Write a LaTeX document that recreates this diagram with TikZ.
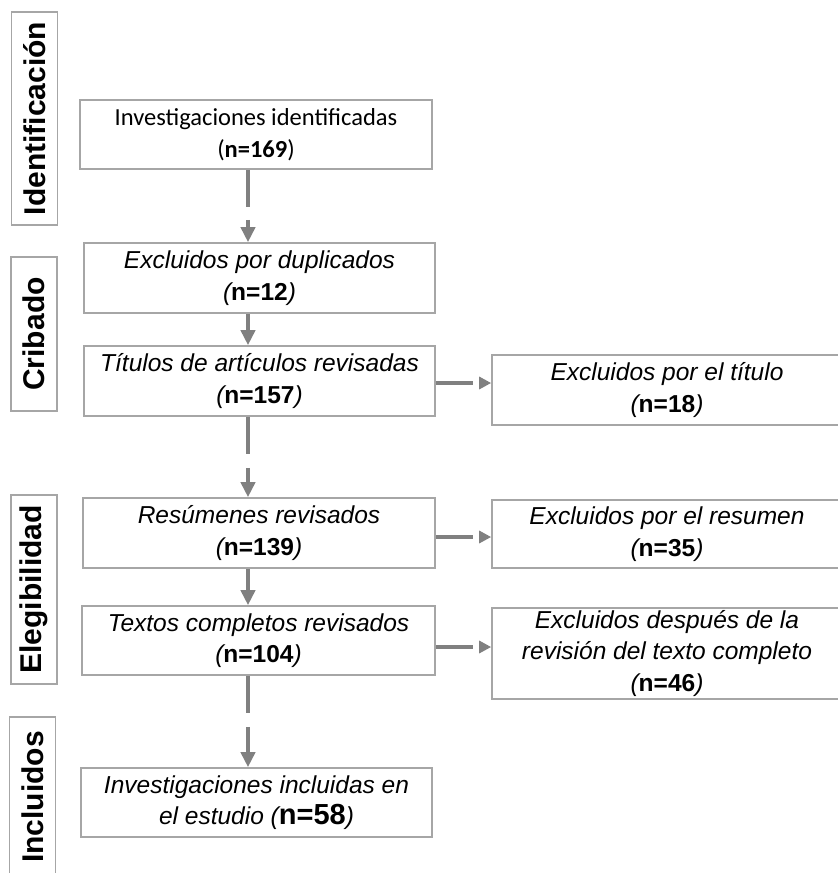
\documentclass[tikz,border=0pt]{standalone}
\usepackage{fontspec}
\setmainfont{Liberation Sans}
\newfontfamily\calibrifont{Carlito}
\usetikzlibrary{arrows.meta,positioning}
\definecolor{boxgray}{HTML}{A6A6A6}
\definecolor{arrowgray}{HTML}{808080}
\newcommand{\boxfont}{\fontsize{24.5}{31.5}\selectfont\itshape}
\newcommand{\phasefont}{\fontsize{30}{34}\selectfont\bfseries}
\newcommand{\nval}[1]{\textbf{\upshape #1}}
\tikzset{
  >={Triangle[length=15pt,width=14pt]},
  procbox/.style={draw=boxgray,line width=1.6pt,minimum height=70pt,
    minimum width=351pt,inner sep=0pt,align=center,font=\boxfont},
  exclbox/.style={procbox,minimum width=350pt},
  phasebox/.style={draw=boxgray,line width=1.6pt,rotate=90,minimum height=46pt,
    inner sep=0pt,font=\phasefont},
  flow/.style={->,draw=arrowgray,line width=4pt},
  gapflow/.style={flow,dash pattern=on 37pt off #1 on 300pt},
  sideflow/.style={flow,>={Triangle[length=12pt,width=12pt]},
    dash pattern=on 37pt off 30pt},
}

\begin{document}
\begin{tikzpicture}[x=1pt,y=-1pt]
  \useasboundingbox (0,0) rectangle (838,873);
  % phases
  \node[phasebox,minimum width=213pt] (idph) at (34.5,118.5) {Identificación};
  \node[phasebox,minimum width=154pt] (crph) at (34,334) {Cribado};
  \node[phasebox,minimum width=189pt] (elph) at (34,589.5) {Elegibilidad};
  \node[phasebox,minimum width=160pt] (inph) at (32.5,797) {Incluidos};
  % main column
  \node[procbox,minimum width=352pt,minimum height=69pt,
    font=\fontsize{24.5}{31.5}\selectfont\calibrifont] (ident) at (256,134.5)
    {Investigaciones identificadas\\(\textbf{n=169})};
  \node[procbox] (dup) at (259.5,278) {Excluidos por duplicados\\(\nval{n=12})};
  \node[procbox] (tit) at (259.5,381) {Títulos de artículos revisadas\\(\nval{n=157})};
  \node[procbox,minimum width=352pt] (res) at (259,533) {Resúmenes revisados\\(\nval{n=139})};
  \node[procbox,minimum width=353pt,minimum height=69pt] (txt) at (258.5,640.5)
    {Textos completos revisados\\(\nval{n=104})};
  \node[procbox,minimum height=69pt] (incl) at (256.5,802.5)
    {Investigaciones incluidas en\\el estudio ({\fontsize{29}{31.5}\selectfont\nval{n=58}})};
  % excluded column
  \node[exclbox] (extit) at (667,390) {Excluidos por el título\\(\nval{n=18})};
  \node[exclbox,minimum height=68pt] (exres) at (667,534)
    {Excluidos por el resumen\\(\nval{n=35})};
  \node[exclbox,minimum height=91pt] (extxt) at (667,653.5)
    {Excluidos después de la\\revisión del texto completo\\(\nval{n=46})};
  % connectors
  \coordinate (axis) at (248,0);
  \draw[gapflow=13pt] (ident.south -| axis) -- (dup.north -| axis);
  \draw[flow] (dup.south -| axis) -- (tit.north -| axis);
  \draw[gapflow=14pt] (tit.south -| axis) -- (res.north -| axis);
  \draw[flow] (res.south -| axis) -- (txt.north -| axis);
  \draw[gapflow=14pt] (txt.south -| axis) -- (incl.north -| axis);
  \draw[sideflow] ([yshift=-2pt]tit.east) -- ([yshift=-2pt]tit.east -| extit.west);
  \draw[sideflow] ([yshift=-4pt]res.east) -- ([yshift=-4pt]res.east -| exres.west);
  \draw[sideflow] ([yshift=-6.5pt]txt.east) -- ([yshift=-6.5pt]txt.east -| extxt.west);
\end{tikzpicture}
\end{document}
